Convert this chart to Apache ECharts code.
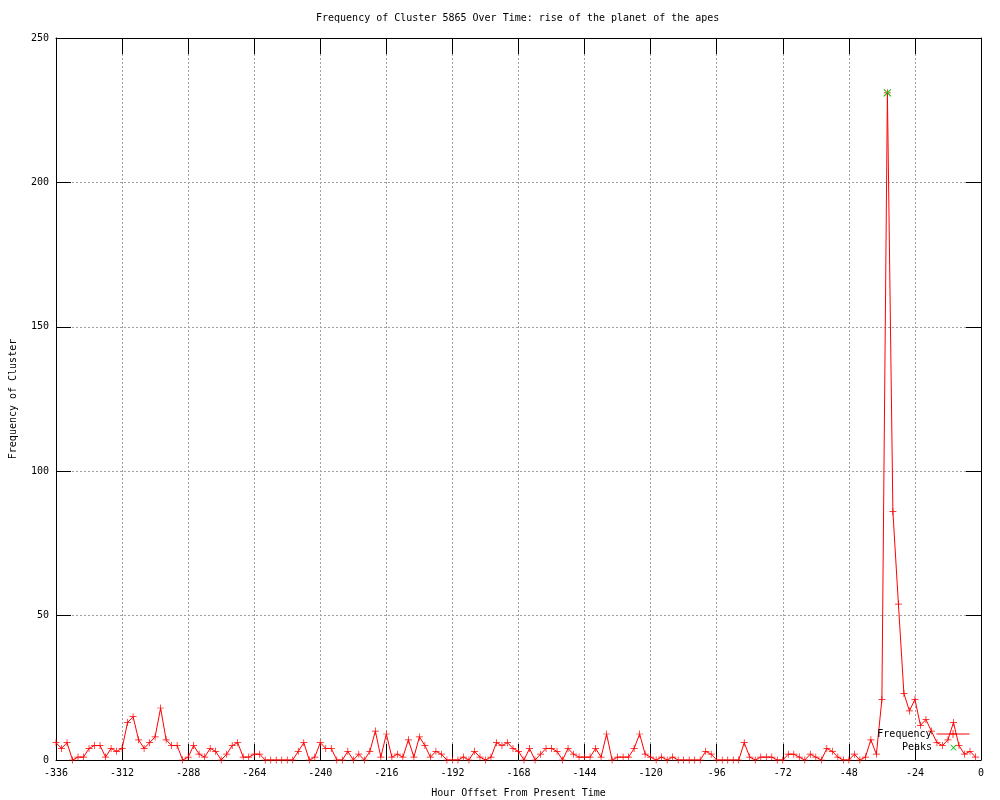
<!DOCTYPE html>
<html>
<head>
<meta charset="utf-8">
<script src="https://cdn.jsdelivr.net/npm/echarts@6/dist/echarts.min.js"></script>
<style>
  html, body { margin: 0; padding: 0; background: #fff; }
  #chart { width: 1000px; height: 800px; }
</style>
</head>
<body>
<div id="chart"></div>
<script>
// 时间（小时偏移）
const hours = [
  -336, -334, -332, -330, -328, -326, -324, -322, -320, -318, -316, -314,
  -312, -310, -308, -306, -304, -302, -300, -298, -296, -294, -292, -290,
  -288, -286, -284, -282, -280, -278, -276, -274, -272, -270, -268, -266,
  -264, -262, -260, -258, -256, -254, -252, -250, -248, -246, -244, -242,
  -240, -238, -236, -234, -232, -230, -228, -226, -224, -222, -220, -218,
  -216, -214, -212, -210, -208, -206, -204, -202, -200, -198, -196, -194,
  -192, -190, -188, -186, -184, -182, -180, -178, -176, -174, -172, -170,
  -168, -166, -164, -162, -160, -158, -156, -154, -152, -150, -148, -146,
  -144, -142, -140, -138, -136, -134, -132, -130, -128, -126, -124, -122,
  -120, -118, -116, -114, -112, -110, -108, -106, -104, -102, -100, -98,
  -96, -94, -92, -90, -88, -86, -84, -82, -80, -78, -76, -74,
  -72, -70, -68, -66, -64, -62, -60, -58, -56, -54, -52, -50,
  -48, -46, -44, -42, -40, -38, -36, -34, -32, -30, -28, -26,
  -24, -22, -20, -18, -16, -14, -12, -10, -8, -6, -4, -2
]
// 每个时间点的频率
const frequency = [
  6, 4, 6, 0, 1, 1, 4, 5, 5, 1, 4, 3,
  4, 13, 15, 7, 4, 6, 8, 18, 7, 5, 5, 0,
  1, 5, 2, 1, 4, 3, 0, 2, 5, 6, 1, 1,
  2, 2, 0, 0, 0, 0, 0, 0, 3, 6, 0, 1,
  6, 4, 4, 0, 0, 3, 0, 2, 0, 3, 10, 1,
  9, 1, 2, 1, 7, 1, 8, 5, 1, 3, 2, 0,
  0, 0, 1, 0, 3, 1, 0, 1, 6, 5, 6, 4,
  3, 0, 4, 0, 2, 4, 4, 3, 0, 4, 2, 1,
  1, 1, 4, 1, 9, 0, 1, 1, 1, 4, 9, 2,
  1, 0, 1, 0, 1, 0, 0, 0, 0, 0, 3, 2,
  0, 0, 0, 0, 0, 6, 1, 0, 1, 1, 1, 0,
  0, 2, 2, 1, 0, 2, 1, 0, 4, 3, 1, 0,
  0, 2, 0, 1, 7, 2, 21, 231, 86, 54, 23, 17,
  21, 12, 14, 10, 6, 5, 7, 13, 5, 2, 3, 1
]
// 峰值
const peakHours = [-34]
const peakValues = [231]

const xTicks = { min: -336, max: 0, interval: 24 }
const yTicks = { min: 0, max: 250, interval: 50 }

const FONT = 'DejaVu Sans Mono'
// 十字形标记（gnuplot 的 +）
const PLUS = 'path://M4.5,0H5.5V4.5H10V5.5H5.5V10H4.5V5.5H0V4.5H4.5Z'

const gridLine = { show: true, lineStyle: { color: '#a0a0a0', width: 1, type: [2, 2] } }
const blackLine = { show: true, onZero: false, lineStyle: { color: '#000', width: 1 } }
const labelStyle = { color: '#000', fontFamily: FONT, fontSize: 10 }

const chart = echarts.init(document.getElementById('chart'))
chart.setOption({
  animation: false,
  backgroundColor: '#fff',
  title: {
    text: 'Frequency of Cluster 5865 Over Time: rise of the planet of the apes',
    left: 311,
    top: 8,
    textStyle: { color: '#000', fontFamily: FONT, fontSize: 10, fontWeight: 'normal' }
  },
  legend: [
    {
      data: ['Frequency'],
      right: 25, top: 724,
      align: 'right',
      itemWidth: 33, itemHeight: 10,
      lineStyle: { width: 1 },
      textStyle: labelStyle
    },
    {
      data: ['Peaks'],
      right: 25, top: 737,
      align: 'right',
      itemWidth: 33, itemHeight: 10,
      textStyle: labelStyle
    }
  ],
  grid: { left: 56, right: 19, top: 38, bottom: 40, show: false, outerBoundsMode: 'none' },
  xAxis: [
    {
      type: 'value', ...xTicks,
      name: 'Hour Offset From Present Time',
      nameLocation: 'middle', nameGap: 28,
      nameTextStyle: labelStyle,
      axisLine: blackLine,
      axisTick: { inside: true, length: 16, lineStyle: { color: '#000' } },
      axisLabel: { ...labelStyle, margin: 8, showMinLabel: true, showMaxLabel: true },
      splitLine: gridLine
    },
    {
      type: 'value', ...xTicks, position: 'top',
      axisLine: blackLine,
      axisTick: { inside: true, length: 16, lineStyle: { color: '#000' } },
      axisLabel: { show: false },
      splitLine: { show: false }
    }
  ],
  yAxis: [
    {
      type: 'value', ...yTicks,
      name: 'Frequency of Cluster',
      nameLocation: 'middle', nameGap: 38,
      nameTextStyle: labelStyle,
      axisLine: blackLine,
      axisTick: { inside: true, length: 15, lineStyle: { color: '#000' } },
      axisLabel: { ...labelStyle, margin: 7 },
      splitLine: gridLine
    },
    {
      type: 'value', ...yTicks, position: 'right',
      axisLine: blackLine,
      axisTick: { inside: true, length: 15, lineStyle: { color: '#000' } },
      axisLabel: { show: false },
      splitLine: { show: false }
    }
  ],
  series: [
    {
      name: 'Frequency',
      type: 'line',
      data: hours.map((h, i) => [h, frequency[i]]),
      symbol: PLUS,
      symbolSize: 7,
      showAllSymbol: true,
      lineStyle: { color: '#ff0000', width: 1 },
      itemStyle: { color: '#ff0000' },
      z: 3
    },
    {
      name: 'Peaks',
      type: 'line',
      data: peakHours.map((h, i) => [h, peakValues[i]]),
      symbol: PLUS,
      symbolSize: 10,
      symbolRotate: 45,
      lineStyle: { width: 0, opacity: 0 },
      itemStyle: { color: '#00c000' },
      z: 4
    }
  ]
})
</script>
</body>
</html>
